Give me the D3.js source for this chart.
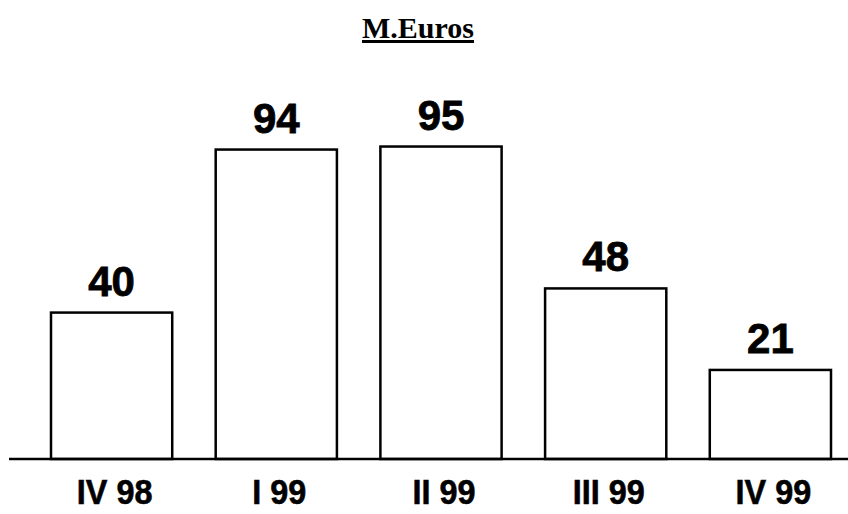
<!DOCTYPE html>
<html>
<head>
<meta charset="utf-8">
<script src="https://cdn.jsdelivr.net/npm/d3@7"></script>
<style>
  html, body { margin: 0; padding: 0; background: #fff; }
  svg { display: block; }
</style>
</head>
<body>
<svg id="chart" width="848" height="514"></svg>
<script>
const title = "M.Euros";
const categories = ["IV 98", "I 99", "II 99", "III 99", "IV 99"];
const values = [40, 94, 95, 48, 21];
const yDomain = [-8.5, 100];

const svg = d3.select("#chart");
const W = 848, H = 514;
const baseY = 459;

const x = d3.scaleBand()
  .domain(categories)
  .range([51, 831])
  .paddingInner(0.264)
  .paddingOuter(0);

const y = d3.scaleLinear()
  .domain(yDomain)
  .range([baseY, baseY - 3.019 * (yDomain[1] - yDomain[0])]);

// Title
svg.append("text")
  .attr("x", 418)
  .attr("y", 38)
  .attr("text-anchor", "middle")
  .attr("font-family", "'Liberation Serif', 'DejaVu Serif', serif")
  .attr("font-weight", "bold")
  .attr("font-size", 30)
  .attr("text-decoration", "underline")
  .attr("fill", "#000")
  .text(title);

// Bars
const data = categories.map((c, i) => ({ c, v: values[i] }));

svg.append("g")
  .selectAll("rect")
  .data(data)
  .join("rect")
  .attr("x", d => x(d.c))
  .attr("y", d => y(d.v))
  .attr("width", x.bandwidth())
  .attr("height", d => baseY - y(d.v))
  .attr("fill", "#fff")
  .attr("stroke", "#000")
  .attr("stroke-width", 2.5);

// Baseline axis
const axis = d3.axisBottom(x).tickSize(0).tickFormat("");
const gAxis = svg.append("g").attr("transform", `translate(0,${baseY})`).call(axis);
gAxis.select(".domain").remove();
svg.append("line")
  .attr("x1", 9).attr("x2", W)
  .attr("y1", baseY).attr("y2", baseY)
  .attr("stroke", "#000").attr("stroke-width", 2.5);

// Value labels
svg.append("g")
  .selectAll("text")
  .data(data)
  .join("text")
  .attr("x", d => x(d.c) + x.bandwidth() / 2)
  .attr("y", d => y(d.v) - 17)
  .attr("text-anchor", "middle")
  .attr("font-family", "'Liberation Sans', Arial, sans-serif")
  .attr("font-weight", "bold")
  .attr("font-size", 42)
  .attr("stroke", "#000")
  .attr("stroke-width", 0.8)
  .attr("fill", "#000")
  .text(d => d.v);

// Category labels (condensed bold)
svg.append("g")
  .selectAll("text")
  .data(data)
  .join("text")
  .attr("transform", d => `translate(${x(d.c) + x.bandwidth() / 2 + 3},504) scale(0.9,1)`)
  .attr("text-anchor", "middle")
  .attr("font-family", "'Liberation Sans', Arial, sans-serif")
  .attr("font-weight", "bold")
  .attr("font-size", 36)
  .attr("stroke", "#000")
  .attr("stroke-width", 0.6)
  .attr("fill", "#000")
  .text(d => d.c);
</script>
</body>
</html>
